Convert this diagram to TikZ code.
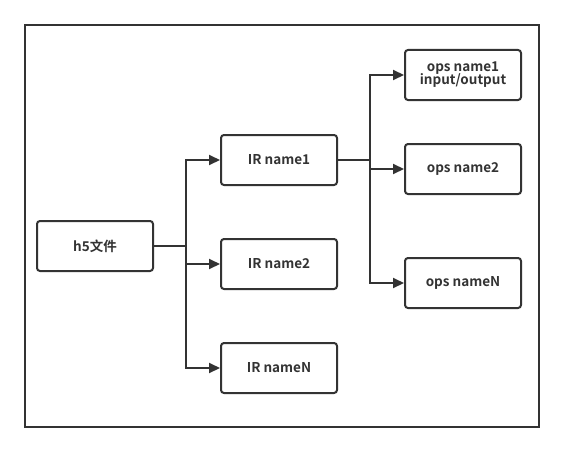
\documentclass[tikz,border=0pt]{standalone}
\usepackage{fontspec}
\setmainfont{Noto Sans CJK SC}[BoldFont={Noto Sans CJK SC Bold}]
\usepackage{tikz}
\usetikzlibrary{arrows.meta}
\definecolor{linegray}{HTML}{333333}
\tikzstyle{box} = [font=\fontsize{13.5}{15}\selectfont\bfseries, rectangle, rounded corners=3pt, minimum width=116pt, minimum height=50pt, inner sep=0pt, align=center, draw=linegray, text=linegray, line width=2pt]
\tikzstyle{arrow} = [draw=linegray, line width=2pt, -{Triangle[length=11pt,width=10pt]}]
\tikzstyle{line} = [draw=linegray, line width=2pt]

\begin{document}
\begin{tikzpicture}[x=1pt, y=-1pt]
  \useasboundingbox (0,0) rectangle (564,452);
  \draw[line] (25,25) rectangle (539,427);
  \node (h5) [box] at (95,246) {h5文件};
  \node (IR1) [box] at (279,160) {IR name1};
  \node (IR2) [box] at (279,264) {IR name2};
  \node (IRN) [box] at (279,368) {IR nameN};
  \node (ops1) [box] at (463,75) {ops name1\\[-2pt]input/output};
  \node (ops2) [box] at (463,169) {ops name2};
  \node (opsN) [box] at (463,283) {ops nameN};
  \coordinate (split1) at (186,246);
  \coordinate (split2) at (370,160);
  \draw[line](h5) -- (split1);
  \draw[arrow](split1) |- (IR1);
  \draw[arrow](split1) |- (IR2);
  \draw[arrow](split1) |- (IRN);
  \draw[line](IR1) -- (split2);
  \draw[arrow](split2) |- (ops1);
  \draw[arrow](split2) |- (ops2);
  \draw[arrow](split2) |- (opsN);
\end{tikzpicture}
\end{document}
